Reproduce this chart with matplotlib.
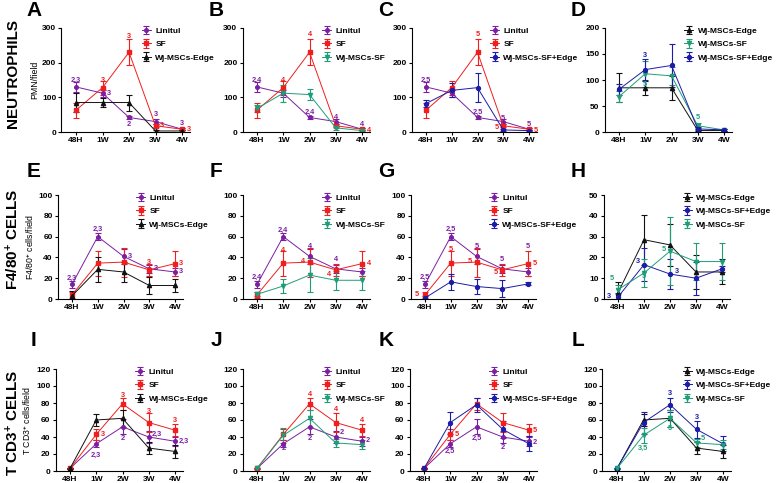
import numpy as np
import matplotlib
matplotlib.use("Agg")
import matplotlib.pyplot as plt

plt.rcParams['font.family'] = ['Liberation Sans', 'DejaVu Sans']
plt.rcParams['font.weight'] = 'bold'
plt.rcParams['mathtext.fontset'] = 'custom'
plt.rcParams['mathtext.rm'] = 'Liberation Sans:bold'
plt.rcParams['mathtext.bf'] = 'Liberation Sans:bold'
plt.rcParams['mathtext.default'] = 'bf'

times = ["48H", "1W", "2W", "3W", "4W"]

# Neutrophils (PMN/field)
pmn_linitul = [130, 112, 42, 30, 8]
pmn_linitul_err = [15, 10, 5, 8, 3]
pmn_sf = [63, 128, 230, 18, 8]
pmn_sf_err = [22, 20, 38, 5, 3]
pmn_edge = [85, 85, 85, 3, 3]
pmn_edge_err = [28, 13, 23, 2, 2]
pmn_wjsf = [68, 112, 108, 12, 4]
pmn_wjsf_err = [10, 25, 17, 5, 2]
pmn_wjsfedge = [82, 120, 128, 6, 4]
pmn_wjsfedge_err = [10, 20, 42, 3, 2]

# F4/80+ cells/field
f480_linitul = [14, 60, 41, 29, 26]
f480_linitul_err = [3, 3, 7, 4, 4]
f480_sf = [4, 34.5, 35.5, 28, 34]
f480_sf_err = [3, 12, 14, 6, 12]
f480_edge = [3, 28.5, 26, 13, 13]
f480_edge_err = [5, 12, 10, 8, 6]
f480_wjsf = [4.5, 12.5, 23, 18, 18]
f480_wjsf_err = [2, 6.5, 16.5, 9, 9]
f480_wjsfedge = [1, 16.5, 12, 10, 14.5]
f480_wjsfedge_err = [2, 8, 7, 8, 1.5]

# T CD3+ cells/field
cd3_linitul = [3, 32, 52, 40, 35]
cd3_linitul_err = [1, 4, 9, 7, 5]
cd3_sf = [3, 43, 79, 57, 48]
cd3_sf_err = [1, 7, 7, 11, 7]
cd3_edge = [3, 60, 62, 27, 23]
cd3_edge_err = [1, 7, 10, 7, 8]
cd3_wjsf = [3, 42, 62, 33, 31]
cd3_wjsf_err = [1, 9, 10, 5, 5]
cd3_wjsfedge = [3, 57, 78, 49, 32]
cd3_wjsfedge_err = [1, 13, 8, 10, 9]

P, R, K, G, B = "#7B1FA2", "#F01E1E", "#111111", "#1E9E78", "#1C1CA8"

style = {
    "Linitul": (P, "o", 2.6),
    "SF": (R, "s", 2.6),
    "Wj-MSCs-Edge": (K, "^", 3.0),
    "Wj-MSCs-SF": (G, "v", 3.0),
    "Wj-MSCs-SF+Edge": (B, "o", 2.8),
}

rows = [
    {"Linitul": (pmn_linitul, pmn_linitul_err), "SF": (pmn_sf, pmn_sf_err),
     "Wj-MSCs-Edge": (pmn_edge, pmn_edge_err), "Wj-MSCs-SF": (pmn_wjsf, pmn_wjsf_err),
     "Wj-MSCs-SF+Edge": (pmn_wjsfedge, pmn_wjsfedge_err)},
    {"Linitul": (f480_linitul, f480_linitul_err), "SF": (f480_sf, f480_sf_err),
     "Wj-MSCs-Edge": (f480_edge, f480_edge_err), "Wj-MSCs-SF": (f480_wjsf, f480_wjsf_err),
     "Wj-MSCs-SF+Edge": (f480_wjsfedge, f480_wjsfedge_err)},
    {"Linitul": (cd3_linitul, cd3_linitul_err), "SF": (cd3_sf, cd3_sf_err),
     "Wj-MSCs-Edge": (cd3_edge, cd3_edge_err), "Wj-MSCs-SF": (cd3_wjsf, cd3_wjsf_err),
     "Wj-MSCs-SF+Edge": (cd3_wjsfedge, cd3_wjsfedge_err)},
]

panel_groups = [
    [["Linitul", "SF", "Wj-MSCs-Edge"], ["Linitul", "SF", "Wj-MSCs-SF"],
     ["Linitul", "SF", "Wj-MSCs-SF+Edge"], ["Wj-MSCs-Edge", "Wj-MSCs-SF", "Wj-MSCs-SF+Edge"]],
    [["Linitul", "SF", "Wj-MSCs-Edge"], ["Linitul", "SF", "Wj-MSCs-SF"],
     ["Linitul", "SF", "Wj-MSCs-SF+Edge"], ["Wj-MSCs-Edge", "Wj-MSCs-SF+Edge", "Wj-MSCs-SF"]],
    [["Linitul", "SF", "Wj-MSCs-Edge"], ["Linitul", "SF", "Wj-MSCs-SF"],
     ["Linitul", "SF", "Wj-MSCs-SF+Edge"], ["Wj-MSCs-Edge", "Wj-MSCs-SF+Edge", "Wj-MSCs-SF"]],
]

yticks = [
    [np.arange(0, 301, 100)] * 3 + [np.arange(0, 201, 50)],
    [np.arange(0, 101, 20)] * 3 + [np.arange(0, 51, 10)],
    [np.arange(0, 121, 20)] * 4,
]
ylabels = ["PMN/field", "F4/80$^{+}$ cells/field", "T CD3$^{+}$ cells/field"]
row_titles = ["NEUTROPHILS", "F4/80$^{+}$ CELLS", "T CD3$^{+}$ CELLS"]
letters = "ABCDEFGHIJKL"

# significance labels: (x, y, text, colour)
notes = [
    [(0, 150, "2,3", P), (1, 150, "3", R), (1.25, 112, "3", P), (2, 275, "3", R),
     (2, 22, "2", P), (3, 50, "3", P), (3.25, 18, "3", R), (4, 24, "3", P), (4.25, 6, "3", R)],
    [(0, 150, "2,4", P), (1, 150, "4", R), (2, 282, "4", R), (2, 58, "2,4", P),
     (3, 42, "4", P), (4, 22, "4", P), (4.25, 5, "4", R)],
    [(0, 150, "2,5", P), (2, 282, "5", R), (2, 58, "2,5", P), (2.75, 12, "5", R),
     (3, 40, "5", P), (4, 22, "5", P), (4.25, 5, "5", R)],
    [(1, 148, "3", B), (1, 91, "5", G), (3, 27, "5", G)],
    [(0, 20, "2,3", P), (1, 67, "2,3", P), (2.25, 41, "3", P), (3, 35, "3", R),
     (3.25, 29, "3", P), (4.25, 34, "3", R), (4.25, 26, "3", P)],
    [(0, 21, "2,4", P), (1, 66, "2,4", P), (1, 47, "4", R), (1.75, 36, "4", R),
     (2, 50, "4", P), (3, 38, "4", P), (2.75, 24, "4", R), (4.25, 34, "4", R)],
    [(0, 21, "2,5", P), (-0.3, 4, "5", R), (1, 67, "2,5", P), (1, 48, "5", R),
     (1.75, 36, "5", R), (2, 50, "5", P), (3, 38, "5", P), (2.75, 25, "5", R),
     (4, 50, "5", P), (4.25, 34, "5", R)],
    [(-0.25, 10, "5", G), (-0.35, 1, "3", B), (0.75, 18, "3", B), (1, 11, "5", G),
     (1.75, 24, "5", G), (2.25, 13, "3", B)],
    [(1.25, 43, "3", R), (1, 19, "2,3", P), (2, 89, "3", R), (2, 38, "2", P),
     (3, 70, "3", R), (3.32, 43, "2,3", P), (4, 60, "3", R), (4.32, 35, "2,3", P)],
    [(1, 26, "2", P), (2, 90, "4", R), (2, 38, "2", P), (3, 72, "4", R),
     (3.22, 45, "2", P), (4, 60, "4", R), (4.22, 36, "2", P)],
    [(1.25, 43, "5", R), (1, 23, "2,5", P), (2, 39, "2,5", P), (3, 28, "2", P),
     (4.22, 48, "5", R), (4.22, 33, "2", P)],
    [(2, 91, "3", B), (2, 50, "5", G), (3, 63, "3", B), (3.22, 38, "5", G), (1, 27, "3,5", G)],
]

W, H = 778, 483
fig = plt.figure(figsize=(W / 100, H / 100), dpi=100)

# pixel layout: x of 48H and 4W ticks per panel, y of top tick / zero per row
x_first = [[76, 257, 426, 619], [72, 257, 425, 618], [70, 257, 424, 617]]
x_last = [[182, 362, 529, 724], [175, 362, 528, 722], [175, 362, 529, 723]]
y_top = [28, 195, 369]
y_zero = [132, 299, 471]
letter_x = [34, 216, 386, 578]
letter_y = [11, 172, 340]
title_y = [74, 239, 423]

for r in range(3):
    for c in range(4):
        s = (x_last[r][c] - x_first[r][c]) / 4
        left = x_first[r][c] - 0.55 * s
        right = x_last[r][c] + 0.3 * s
        ax = fig.add_axes([left / W, 1 - y_zero[r] / H, (right - left) / W,
                           (y_zero[r] - y_top[r]) / H])
        x = np.arange(len(times))
        for name in panel_groups[r][c]:
            col, mk, ms = style[name]
            m, e = rows[r][name]
            ax.errorbar(x, m, yerr=e, color=col, marker=mk, ms=ms, lw=0.7,
                        elinewidth=0.8, capsize=2, capthick=0.8, label=name)
        ax.set_xlim(-0.55, 4.3)
        yt = yticks[r][c]
        ax.set_ylim(0, yt[-1])
        ax.set_yticks(yt)
        ax.set_xticks(x)
        ax.set_xticklabels(times)
        ax.tick_params(labelsize=6, length=2.5, width=0.8, pad=1.2)
        for sp in ["top", "right"]:
            ax.spines[sp].set_visible(False)
        for sp in ["left", "bottom"]:
            ax.spines[sp].set_linewidth(0.8)
        ax.legend(loc="upper left", bbox_to_anchor=(0.6, 1.04), frameon=False,
                  fontsize=6.0, handlelength=1.1, handletextpad=0.5,
                  labelspacing=0.65, borderaxespad=0)
        for xx, yy, t, col in notes[r * 4 + c]:
            ax.text(xx, yy, t, color=col, fontsize=5.3, ha="center", va="center",
                    fontweight="bold")
        if c == 0:
            ax.set_ylabel(ylabels[r], fontsize=6.3, labelpad=2)
        fig.text(letter_x[c] / W, 1 - letter_y[r] / H, letters[r * 4 + c],
                 fontsize=15, fontweight="bold", ha="center", va="center")
    fig.text(13 / W, 1 - title_y[r] / H, row_titles[r], rotation=90, fontsize=11,
             fontweight="bold", ha="center", va="center")

fig.savefig("out.png", dpi=100)
